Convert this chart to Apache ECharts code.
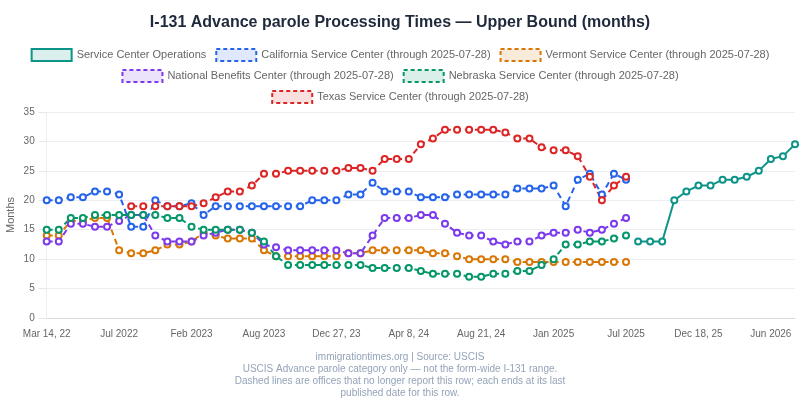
<!DOCTYPE html>
<html>
<head>
<meta charset="utf-8">
<script src="https://cdn.jsdelivr.net/npm/echarts@6/dist/echarts.min.js"></script>
<style>
  html, body { margin: 0; padding: 0; background: #fff; }
  #container { width: 800px; height: 400px; }
</style>
</head>
<body>
<div id="container"></div>
<script type="text/javascript">
    // x axis: report dates (every 6th one is labelled)
    var dates = [
        'Mar 14, 22', 'Apr 5, 22', 'Apr 26, 22', 'May 17, 22', 'Jun 7, 22', 'Jun 28, 22',
        'Jul 2022', 'Aug 19, 22', 'Sep 16, 22', 'Oct 14, 22', 'Nov 15, 22', 'Dec 20, 22',
        'Feb 2023', 'Mar 7, 23', 'Mar 31, 23', 'Apr 27, 23', 'May 24, 23', 'Jun 22, 23',
        'Aug 2023', 'Aug 30, 23', 'Sep 21, 23', 'Oct 12, 23', 'Nov 8, 23', 'Dec 1, 23',
        'Dec 27, 23', 'Jan 19, 24', 'Feb 6, 24', 'Feb 27, 24', 'Mar 14, 24', 'Mar 26, 24',
        'Apr 8, 24', 'Apr 30, 24', 'May 22, 24', 'Jun 12, 24', 'Jul 8, 24', 'Jul 30, 24',
        'Aug 21, 24', 'Sep 17, 24', 'Oct 8, 24', 'Oct 30, 24', 'Nov 20, 24', 'Dec 13, 24',
        'Jan 2025', 'Feb 5, 25', 'Mar 3, 25', 'Apr 1, 25', 'Apr 29, 25', 'Jun 2, 25',
        'Jul 2025', 'Aug 12, 25', 'Sep 9, 25', 'Oct 7, 25', 'Nov 4, 25', 'Nov 25, 25',
        'Dec 18, 25', 'Jan 20, 26', 'Feb 17, 26', 'Mar 17, 26', 'Apr 14, 26', 'May 12, 26',
        'Jun 2026', 'Jul 7, 26', 'Aug 4, 26'
    ];

    // offices that stopped reporting (first 49 dates)
    var california = [20, 20, 20.5, 20.5, 21.5, 21.5, 21, 15.5, 15.5, 20, 19, 19, 19.5, 17.5, 19, 19, 19, 19, 19, 19, 19, 19, 20, 20,
        20, 21, 21, 23, 21.5, 21.5, 21.5, 20.5, 20.5, 20.5, 21, 21, 21, 21, 21, 22, 22, 22, 22.5, 19, 23.5, 24.5, 21, 24.5, 23.5];
    var vermont = [14, 14, 16.5, 16.5, 17, 17, 11.5, 11, 11, 11.5, 12.5, 12.5, 13, 14.5, 14, 13.5, 13.5, 13.5, 11.5, 10.5, 10.5, 10.5, 10.5, 10.5,
        10.5, 11, 11, 11.5, 11.5, 11.5, 11.5, 11.5, 11, 11, 10.5, 10, 10, 10, 10, 9.5, 9.5, 9.5, 9.5, 9.5, 9.5, 9.5, 9.5, 9.5, 9.5];
    var nationalBenefits = [13, 13, 16, 16, 15.5, 15.5, 16.5, 17.5, 17.5, 14, 13, 13, 13, 14, 14.5, 15, 15, 14.5, 12.5, 12, 11.5, 11.5, 11.5, 11.5,
        11.5, 11, 11, 14, 17, 17, 17, 17.5, 17.5, 16, 14.5, 14, 14, 13, 12.5, 13, 13, 14, 14.5, 14.5, 15, 14.5, 15, 16, 17];
    var nebraska = [15, 15, 17, 17, 17.5, 17.5, 17.5, 17.5, 17.5, 17.5, 17, 17, 15.5, 15, 15, 15, 15, 14.5, 13, 10.5, 9, 9, 9, 9,
        9, 9, 9, 8.5, 8.5, 8.5, 8.5, 8, 7.5, 7.5, 7.5, 7, 7, 7.5, 7.5, 8, 8, 9, 10, 12.5, 12.5, 13, 13, 13.5, 14];
    var texas = [null, null, null, null, null, null, null, 19, 19, 19, 19, 19, 19, 19.5, 20.5, 21.5, 21.5, 22.5, 24.5, 24.5, 25, 25, 25, 25,
        25, 25.5, 25.5, 25, 27, 27, 27, 29.5, 30.5, 32, 32, 32, 32, 32, 31.5, 30.5, 30.5, 29, 28.5, 28.5, 27.5, 24, 20, 22.5, 24];

    // service center operations (from Aug 2025 on)
    var serviceCenterOps = [13, 13, 13, 20, 21.5, 22.5, 22.5, 23.5, 23.5, 24, 25, 27, 27.5, 29.5];

    var yTicks = [0, 5, 10, 15, 20, 25, 30, 35];

    var footerLines = [
        'immigrationtimes.org | Source: USCIS',
        'USCIS Advance parole category only — not the form-wide I-131 range.',
        'Dashed lines are offices that no longer report this row; each ends at its last',
        'published date for this row.'
    ];

    var dom = document.getElementById("container");
    var myChart = echarts.init(dom);

    var opsStart = dates.length - serviceCenterOps.length;
    function padEnd(arr) {
        var out = arr.slice();
        while (out.length < dates.length) out.push(null);
        return out;
    }
    function padStart(arr) {
        var out = [];
        for (var i = 0; i < opsStart; i++) out.push(null);
        return out.concat(arr);
    }

    var offices = [
        { name: 'Service Center Operations', color: '#0d9488', fill: 'rgba(13,148,136,0.15)', data: padStart(serviceCenterOps), dashed: false, row: 0 },
        { name: 'California Service Center (through 2025-07-28)', color: '#2563eb', fill: 'rgba(37,99,235,0.15)', data: padEnd(california), dashed: true, row: 0 },
        { name: 'Vermont Service Center (through 2025-07-28)', color: '#d97706', fill: 'rgba(217,119,6,0.15)', data: padEnd(vermont), dashed: true, row: 0 },
        { name: 'National Benefits Center (through 2025-07-28)', color: '#7c3aed', fill: 'rgba(124,58,237,0.15)', data: padEnd(nationalBenefits), dashed: true, row: 1 },
        { name: 'Nebraska Service Center (through 2025-07-28)', color: '#059669', fill: 'rgba(5,150,105,0.15)', data: padEnd(nebraska), dashed: true, row: 1 },
        { name: 'Texas Service Center (through 2025-07-28)', color: '#dc2626', fill: 'rgba(220,38,38,0.15)', data: padEnd(texas), dashed: true, row: 2 }
    ];

    // one legend per row so every row is centred
    var legends = [];
    for (var r = 0; r < 3; r++) {
        legends.push({
            data: [],
            left: 'center',
            top: 48 + r * 21,
            padding: 0,
            itemWidth: 40,
            itemHeight: 12,
            itemGap: 9,
            textStyle: { fontSize: 11, color: '#666' }
        });
    }
    var series = [];
    for (var k = 0; k < offices.length; k++) {
        var o = offices[k];
        legends[o.row].data.push({
            name: o.name,
            icon: 'rect',
            itemStyle: {
                color: o.fill,
                borderColor: o.color,
                borderWidth: 2,
                borderType: o.dashed ? [4, 3] : 'solid'
            }
        });
        series.push({
            name: o.name,
            type: 'line',
            data: o.data,
            connectNulls: false,
            symbol: 'emptyCircle',
            symbolSize: 6,
            showAllSymbol: true,
            itemStyle: { color: o.color, borderWidth: 2 },
            lineStyle: { color: o.color, width: 2, type: o.dashed ? [6, 4] : 'solid' },
            emphasis: { disabled: true }
        });
    }

    var option = {
        animation: false,
        backgroundColor: '#ffffff',
        textStyle: { fontFamily: 'Liberation Sans, Arial, sans-serif' },
        title: {
            text: 'I-131 Advance parole Processing Times — Upper Bound (months)',
            left: 'center',
            top: 10,
            textStyle: { fontSize: 16, fontWeight: 'bold', color: '#1e293b' }
        },
        legend: legends,
        grid: { left: 46.7, right: 5, top: 112, bottom: 82, outerBoundsMode: 'none', containLabel: false },
        xAxis: {
            type: 'category',
            data: dates,
            boundaryGap: false,
            axisLine: { lineStyle: { color: '#d6d9de' } },
            axisTick: { show: false },
            axisLabel: { interval: 5, fontSize: 10, color: '#666', margin: 11 }
        },
        yAxis: {
            type: 'value',
            min: yTicks[0],
            max: yTicks[yTicks.length - 1],
            interval: 5,
            name: 'Months',
            nameLocation: 'middle',
            nameGap: 30,
            nameMoveOverlap: false,
            nameTextStyle: { fontSize: 11, color: '#666' },
            axisLine: { show: true, lineStyle: { color: '#eceef2' } },
            axisTick: { show: true, length: 8, lineStyle: { color: '#e6e8ec' } },
            axisLabel: { fontSize: 10, color: '#666', margin: 12 },
            splitLine: { lineStyle: { color: '#eceef2' } }
        },
        graphic: [{
            type: 'text',
            x: 400,
            y: 351,
            style: {
                text: footerLines.join('\n'),
                fill: '#94a3b8',
                font: '10px Liberation Sans, Arial, sans-serif',
                textAlign: 'center',
                textVerticalAlign: 'top',
                lineHeight: 12
            }
        }],
        series: series
    };

    if (option && typeof option === "object") {
        myChart.setOption(option, true);
    }
</script>
</body>
</html>
